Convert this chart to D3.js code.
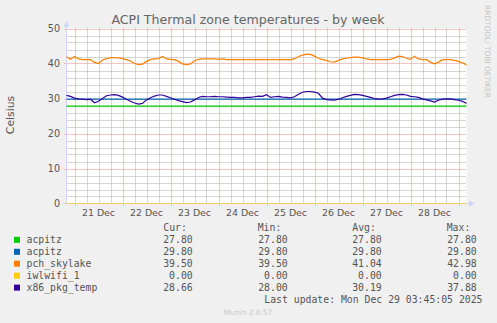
<!DOCTYPE html>
<html><head><meta charset="utf-8">
<script src="https://cdn.jsdelivr.net/npm/d3@7"></script>
<style>
html,body{margin:0;padding:0;background:#F0F0F0;}
svg{display:block;}
</style></head>
<body>
<svg id="chart" width="497" height="323"></svg>
<script>
// ---- data ----
const title = "ACPI Thermal zone temperatures - by week";
const yLabel = "Celsius";
const yTicks = [0, 10, 20, 30, 40, 50];
const startTime = Date.UTC(2025, 11, 20, 20, 0);   // Dec 20 20:00
const endTime = Date.UTC(2025, 11, 29, 4, 0);      // Dec 29 04:00
const stepHours = 2;
const dayLabels = ["21 Dec", "22 Dec", "23 Dec", "24 Dec", "25 Dec", "26 Dec", "27 Dec", "28 Dec"];

const acpitzGreen = [27.8, 27.8];
const acpitzBlue = [29.8, 29.8];
const iwlwifi = [0, 0];
const pchSkylake = [
  41.9, 41.2, 42.0, 41.3, 41.1, 41.1, 41.1, 40.3, 40.0, 41.0,
  41.4, 41.7, 41.7, 41.6, 41.4, 41.1, 40.7, 40.0, 39.7, 39.8,
  40.6, 41.1, 41.3, 41.4, 42.0, 41.3, 41.2, 41.1, 40.6, 39.9,
  39.7, 39.9, 40.8, 41.2, 41.3, 41.3, 41.3, 41.3, 41.2, 41.3,
  41.1, 41.1, 41.1, 41.1, 41.1, 41.1, 41.1, 41.1, 41.1, 41.1,
  41.1, 41.1, 41.1, 41.1, 41.1, 41.1, 41.1, 41.3, 42.0, 42.4,
  42.7, 42.6, 42.1, 41.5, 41.1, 40.9, 40.5, 40.4, 40.9, 41.3,
  41.5, 41.7, 41.8, 41.8, 41.6, 41.3, 41.1, 41.1, 41.1, 41.1,
  41.1, 41.2, 41.6, 42.1, 42.0, 41.5, 41.2, 42.1, 41.3, 41.1,
  41.1, 40.4, 39.9, 40.4, 41.1, 41.1, 41.1, 40.9, 40.6, 40.2,
  39.6
];
const x86PkgTemp = [
  30.9, 30.6, 30.1, 29.9, 29.8, 29.7, 29.8, 28.8, 29.2, 30.0,
  30.8, 31.0, 31.1, 30.9, 30.4, 29.8, 29.2, 28.7, 28.4, 28.6,
  29.6, 30.2, 30.7, 31.0, 31.0, 30.6, 30.2, 29.8, 29.4, 29.1,
  28.8, 29.0, 29.6, 30.3, 30.6, 30.5, 30.5, 30.6, 30.5, 30.5,
  30.4, 30.3, 30.3, 30.2, 30.2, 30.3, 30.3, 30.5, 30.7, 30.6,
  31.1, 30.3, 30.5, 30.6, 30.4, 30.3, 30.2, 30.5, 31.2, 31.8,
  32.0, 32.0, 31.8, 31.5, 30.1, 29.7, 29.6, 29.5, 29.8, 30.2,
  30.6, 30.9, 31.2, 31.1, 30.9, 30.6, 30.3, 30.0, 29.8, 29.9,
  30.1, 30.5, 30.9, 31.1, 31.2, 31.0, 30.6, 30.5, 30.3, 29.9,
  29.6, 29.3, 29.0, 29.5, 29.8, 29.9, 29.9, 29.7, 29.5, 29.2,
  28.6
];

const legendNames = ["acpitz", "acpitz", "pch_skylake", "iwlwifi_1", "x86_pkg_temp"];
const legendColors = ["#00CC00", "#0066B3", "#FF8000", "#FFCC00", "#330099"];
const curVals = ["27.80", "29.80", "39.50", "0.00", "28.66"];
const minVals = ["27.80", "29.80", "39.50", "0.00", "28.00"];
const avgVals = ["27.80", "29.80", "41.04", "0.00", "30.19"];
const maxVals = ["27.80", "29.80", "42.98", "0.00", "37.88"];
const statHeaders = ["Cur:", "Min:", "Avg:", "Max:"];
const lastUpdate = "Last update: Mon Dec 29 03:45:05 2025";
const footer = "Munin 2.0.57";
const sideText = "RRDTOOL/ TOBI OETIKER";

// ---- drawing ----
const svg = d3.select("#chart");
const X0 = 66.5, X1 = 466.5, Y0 = 203.5, Y1 = 28.5;
const x = d3.scaleUtc().domain([new Date(startTime), new Date(endTime)]).range([X0, X1]);
const y = d3.scaleLinear().domain([0, 50]).range([Y0, Y1]);
const textCol = "#555";

svg.append("rect").attr("width", 497).attr("height", 323).attr("fill", "#F0F0F0");
svg.append("rect").attr("x", X0).attr("y", Y1).attr("width", X1 - X0).attr("height", Y0 - Y1).attr("fill", "#FFFFFF");

const grid = svg.append("g");
const minorCol = "#ADADAD", majorCol = "#E68C8C", dash = "1,1";
// minor grid
const minorX = d3.utcHour.every(6).range(new Date(startTime), new Date(endTime + 1));
grid.selectAll(".mvx").data(minorX.filter(d => d.getUTCHours() !== 0)).join("line")
  .attr("x1", d => Math.round(x(d)) + 0.5).attr("x2", d => Math.round(x(d)) + 0.5)
  .attr("y1", Y0).attr("y2", Y1)
  .attr("stroke", minorCol).attr("stroke-dasharray", dash);
const minorY = d3.range(0, 51, 2).filter(v => v % 10 !== 0);
grid.selectAll(".mhy").data(minorY).join("line")
  .attr("x1", X0).attr("x2", X1)
  .attr("y1", d => Math.round(y(d)) + 0.5).attr("y2", d => Math.round(y(d)) + 0.5)
  .attr("stroke", minorCol).attr("stroke-dasharray", dash);
// major grid
const days = d3.utcDay.range(new Date(startTime), new Date(endTime));
grid.selectAll(".Mvx").data(days).join("line")
  .attr("x1", d => Math.round(x(d)) + 0.5).attr("x2", d => Math.round(x(d)) + 0.5)
  .attr("y1", Y0 + 2).attr("y2", Y1)
  .attr("stroke", majorCol).attr("stroke-dasharray", dash);
grid.selectAll(".Mhy").data(yTicks.filter(v => v > 0)).join("line")
  .attr("x1", X0 - 2).attr("x2", X1)
  .attr("y1", d => Math.round(y(d)) + 0.5).attr("y2", d => Math.round(y(d)) + 0.5)
  .attr("stroke", majorCol).attr("stroke-dasharray", dash);

// axes lines
svg.append("line").attr("x1", X0).attr("x2", X0).attr("y1", Y0 + 2).attr("y2", 24)
  .attr("stroke", "#CFD6F8");
svg.append("path").attr("d", `M${X0 - 3},27 L${X0 + 3},27 L${X0},21 Z`).attr("fill", "#CFD6F8");
svg.append("line").attr("x1", X0 - 3).attr("x2", 472).attr("y1", Y0).attr("y2", Y0)
  .attr("stroke", "#CFD6F8");
svg.append("path").attr("d", `M469,${Y0 - 3} L469,${Y0 + 3} L475,${Y0} Z`).attr("fill", "#CFD6F8");

// series
const timeAt = i => new Date(startTime + i * stepHours * 3600e3);
const flat = v => [{t: new Date(startTime), v: v[0]}, {t: new Date(endTime), v: v[1]}];
const seq = arr => arr.map((v, i) => ({t: timeAt(i), v}));
const line = d3.line().x(d => x(d.t)).y(d => y(d.v));
const series = [
  {d: flat(acpitzGreen), c: legendColors[0]},
  {d: flat(acpitzBlue), c: legendColors[1]},
  {d: seq(pchSkylake), c: legendColors[2]},
  {d: flat(iwlwifi), c: legendColors[3]},
  {d: seq(x86PkgTemp), c: legendColors[4]}
];
series.forEach(s => {
  svg.append("path").attr("d", line(s.d)).attr("fill", "none")
    .attr("stroke", s.c).attr("stroke-width", 1.2).attr("stroke-opacity", s.c === "#FFCC00" ? 0.6 : 1);
});

// y labels
svg.selectAll(".yl").data(yTicks).join("text")
  .attr("x", 60).attr("y", d => y(d) + 3.4)
  .attr("text-anchor", "end").attr("font-family", "DejaVu Sans").attr("font-size", 9.6)
  .attr("fill", textCol).text(d => d);
// x labels
svg.selectAll(".xl").data(days).join("text")
  .attr("x", d => x(d3.utcHour.offset(d, 12))).attr("y", 216)
  .attr("text-anchor", "middle").attr("font-family", "DejaVu Sans").attr("font-size", 9.4)
  .attr("fill", textCol).text((d, i) => dayLabels[i]);

// title
svg.append("text").attr("x", 248).attr("y", 24).attr("text-anchor", "middle")
  .attr("font-family", "DejaVu Sans").attr("font-size", 12.6).attr("fill", "#666").text(title);
// y title
svg.append("text").attr("transform", "translate(14,115) rotate(-90)").attr("text-anchor", "middle")
  .attr("font-family", "DejaVu Sans").attr("font-size", 10.8).attr("fill", textCol).text(yLabel);
// side text
svg.append("text").attr("transform", "translate(485,5) rotate(90)").attr("text-anchor", "start")
  .attr("font-family", "DejaVu Sans").attr("font-size", 7.4).attr("fill", "#C4C4C4").text(sideText);

// legend
const mono = "DejaVu Sans Mono", fs = 9.8;
const baseY = 231.4, pitch = 11.94;
const colRight = [192.7, 287.7, 381.7, 476.7];
const colLeft = [163.3, 257.7, 352.3, 446.7];
statHeaders.forEach((h, j) => {
  svg.append("text").attr("x", colLeft[j]).attr("y", baseY).attr("font-family", mono)
    .attr("font-size", fs).attr("fill", textCol).text(h);
});
const cols = [curVals, minVals, avgVals, maxVals];
legendNames.forEach((n, i) => {
  const by = baseY + pitch * (i + 1);
  svg.append("rect").attr("x", 14).attr("y", by - 6.5).attr("width", 6).attr("height", 6)
    .attr("fill", legendColors[i]);
  svg.append("text").attr("x", 26.5).attr("y", by).attr("font-family", mono)
    .attr("font-size", fs).attr("fill", textCol).text(n);
  cols.forEach((c, j) => {
    svg.append("text").attr("x", colRight[j]).attr("y", by).attr("text-anchor", "end")
      .attr("font-family", mono).attr("font-size", fs).attr("fill", textCol).text(c[i]);
  });
});
svg.append("text").attr("x", 482.5).attr("y", baseY + pitch * 6).attr("text-anchor", "end")
  .attr("font-family", mono).attr("font-size", fs).attr("fill", textCol).text(lastUpdate);
svg.append("text").attr("x", 248).attr("y", 315).attr("text-anchor", "middle")
  .attr("font-family", "DejaVu Sans").attr("font-size", 7.4).attr("fill", "#C8C8C8").text(footer);
</script>
</body></html>
